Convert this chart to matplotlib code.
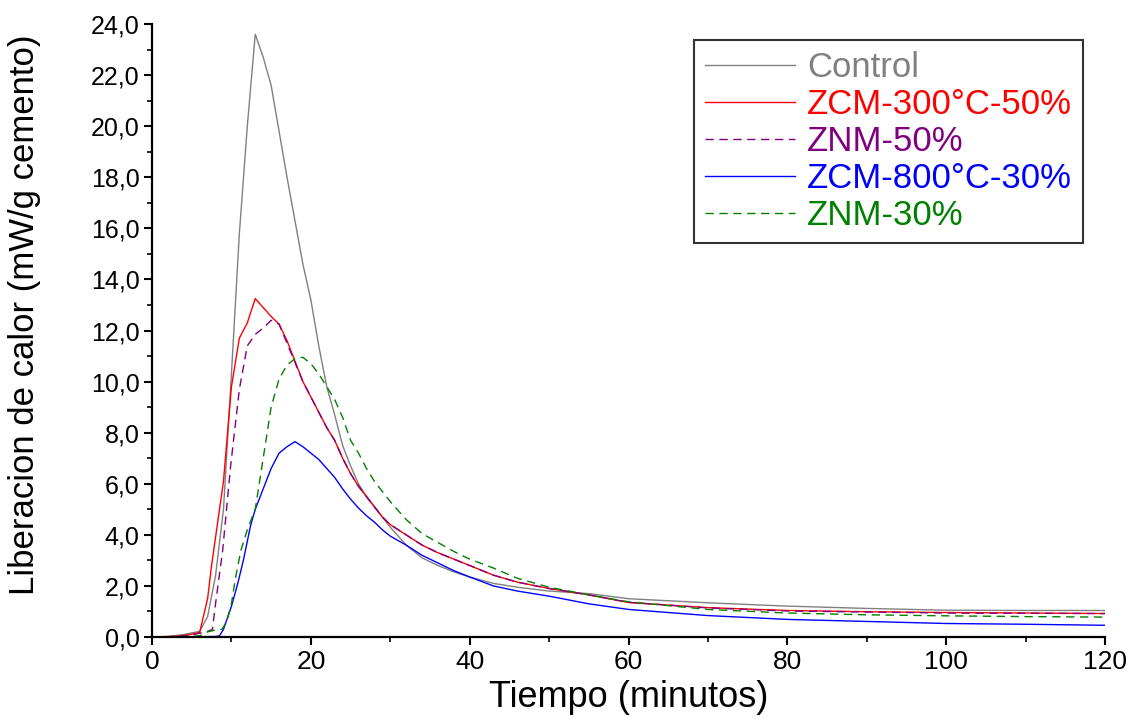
import numpy as np
import matplotlib
matplotlib.use("Agg")
import matplotlib.pyplot as plt
from matplotlib.ticker import MultipleLocator, FuncFormatter

plt.rcParams['font.family'] = ['Liberation Sans', 'DejaVu Sans']

# tiempo (minutos) y liberacion de calor (mW/g cemento)
t_control = [0, 2, 4, 6, 7, 8, 9, 10, 11, 12, 13, 14, 15, 16, 17, 18, 19, 20,
             21, 22, 23, 24, 25, 26, 27, 28, 29, 30, 32, 34, 36, 38, 40, 43, 46, 50, 55,
             60, 70, 80, 90, 100, 110, 120]
control = [0, 0.02, 0.1, 0.22, 0.8, 2.4, 5.0, 10.3, 15.8, 20.0, 23.6, 22.7, 21.6,
           19.8, 18.0, 16.3, 14.6, 13.2, 11.4, 9.8, 8.7, 7.5, 6.7, 6.0, 5.5, 5.1, 4.7, 4.3,
           3.6, 3.1, 2.8, 2.55, 2.35, 2.1, 1.95, 1.8, 1.7, 1.5, 1.34, 1.21, 1.12, 1.05, 1.04,
           1.04]

t_zcm300 = [0, 3, 4.5, 6, 7, 7.5, 8, 9, 10, 11, 12, 13, 14, 15, 16, 17, 18, 19, 20, 21, 22,
            23, 24, 25, 26, 27, 28, 29, 30, 32, 34, 36, 38, 40, 43, 46, 50, 55, 60, 70, 80,
            90, 100, 110, 120]
zcm300 = [0, 0.03, 0.08, 0.18, 1.5, 2.8, 3.9, 6.1, 9.8, 11.7, 12.3, 13.25, 12.9, 12.55,
          12.25, 11.6, 10.8, 10.0, 9.4, 8.8, 8.2, 7.7, 7.0, 6.4, 5.9, 5.5, 5.1, 4.7, 4.4,
          4.0, 3.6, 3.3, 3.05, 2.8, 2.42, 2.15, 1.9, 1.65, 1.35, 1.15, 1.04, 0.99, 0.96,
          0.94, 0.92]

t_znm50 = [0, 3, 5, 6, 7, 7.6, 8, 8.9, 9.9, 11, 12, 13, 14, 15, 16, 17, 18, 19, 20, 21, 22,
           23, 24, 25, 26, 27, 28, 29, 30, 32, 34, 36, 38, 40, 43, 46, 50, 55, 60, 70, 80,
           90, 100, 110, 120]
znm50 = [0, 0.02, 0.08, 0.15, 0.22, 0.3, 1.3, 3.4, 6.7, 9.7, 11.4, 11.85, 12.1, 12.4, 12.25,
         11.5, 10.75, 10.0, 9.4, 8.8, 8.2, 7.7, 7.0, 6.4, 5.9, 5.5, 5.1, 4.7, 4.4, 4.0, 3.6,
         3.3, 3.05, 2.8, 2.42, 2.15, 1.9, 1.65, 1.36, 1.14, 1.02, 0.98, 0.94, 0.93, 0.92]

t_zcm800 = [0, 8, 8.5, 9, 10, 10.8, 11.5, 12.4, 13, 14, 15, 16, 17, 18, 19, 20, 21, 22, 23,
            24, 25, 26, 27, 28, 29, 30, 32, 34, 36, 38, 40, 43, 46, 50, 55, 60, 70, 80, 90,
            100, 110, 120]
zcm800 = [0, 0.02, 0.05, 0.3, 1.2, 2.1, 3.0, 4.35, 5.0, 5.8, 6.6, 7.2, 7.45, 7.65, 7.45,
          7.2, 6.95, 6.6, 6.25, 5.8, 5.4, 5.05, 4.75, 4.5, 4.2, 3.95, 3.6, 3.2, 2.9, 2.6,
          2.35, 2.0, 1.8, 1.6, 1.3, 1.08, 0.84, 0.69, 0.61, 0.53, 0.5, 0.46]

t_znm30 = [0, 5, 6, 7, 8, 8.8, 9.4, 10, 10.5, 11.2, 12, 13, 14, 15, 16, 17, 18, 19, 20, 21,
           22, 23, 24, 25, 26, 27, 28, 29, 30, 32, 34, 36, 38, 40, 43, 46, 50, 55, 60, 70,
           80, 90, 100, 110, 120]
znm30 = [0, 0.02, 0.05, 0.2, 0.28, 0.3, 0.6, 1.3, 2.3, 3.4, 4.2, 5.0, 7.0, 9.0, 10.1, 10.65,
         10.9, 10.95, 10.7, 10.3, 9.8, 9.3, 8.6, 7.7, 7.2, 6.6, 6.1, 5.7, 5.3, 4.6, 4.05,
         3.7, 3.35, 3.05, 2.7, 2.3, 1.95, 1.65, 1.38, 1.08, 0.94, 0.87, 0.83, 0.8, 0.78]

series = [
    ("Control", t_control, control, "#808080", "-"),
    ("ZCM-300°C-50%", t_zcm300, zcm300, "#ff0000", "-"),
    ("ZNM-50%", t_znm50, znm50, "#800080", (0, (6, 4))),
    ("ZCM-800°C-30%", t_zcm800, zcm800, "#0000ff", "-"),
    ("ZNM-30%", t_znm30, znm30, "#008000", (0, (6, 4))),
]

fig = plt.figure(figsize=(11.36, 7.19), dpi=100)
ax = fig.add_axes([0.1338, 0.114, 0.839, 0.8526])

for name, t, y, color, ls in series:
    ax.plot(t, y, color=color, linestyle=ls, linewidth=1.0, label=name)

ax.set_xlim(0, 120)
ax.set_ylim(0, 24)
ax.xaxis.set_major_locator(MultipleLocator(20))
ax.xaxis.set_minor_locator(MultipleLocator(10))
ax.yaxis.set_major_locator(MultipleLocator(2))
ax.yaxis.set_minor_locator(MultipleLocator(1))
ax.yaxis.set_major_formatter(FuncFormatter(lambda v, p: f"{v:.1f}".replace(".", ",")))

for side in ["top", "right"]:
    ax.spines[side].set_visible(False)
for side in ["left", "bottom"]:
    ax.spines[side].set_linewidth(1.6)

ax.tick_params(which="major", direction="out", length=6, width=1.5, labelsize=18, pad=3)
ax.tick_params(axis="x", which="major", labelsize=19)
ax.tick_params(which="minor", direction="out", length=3.5, width=1.2)

ax.set_xlabel("Tiempo (minutos)", fontsize=26, labelpad=5)
ax.set_ylabel("Liberacion de calor (mW/g cemento)", fontsize=25)
ax.yaxis.set_label_coords(-0.116, 0.525)

leg = ax.legend(loc="upper right", bbox_to_anchor=(0.953, 0.944), bbox_transform=fig.transFigure,
                fontsize=25, frameon=True, fancybox=False, shadow=False,
                handlelength=2.6, handletextpad=0.35, labelspacing=0.12, borderpad=0.3,
                borderaxespad=0)
leg.get_frame().set_edgecolor("black")
leg.get_frame().set_linewidth(1.5)
for text, (_, _, _, color, _) in zip(leg.get_texts(), series):
    text.set_color(color)

fig.savefig("out.png", dpi=100)
